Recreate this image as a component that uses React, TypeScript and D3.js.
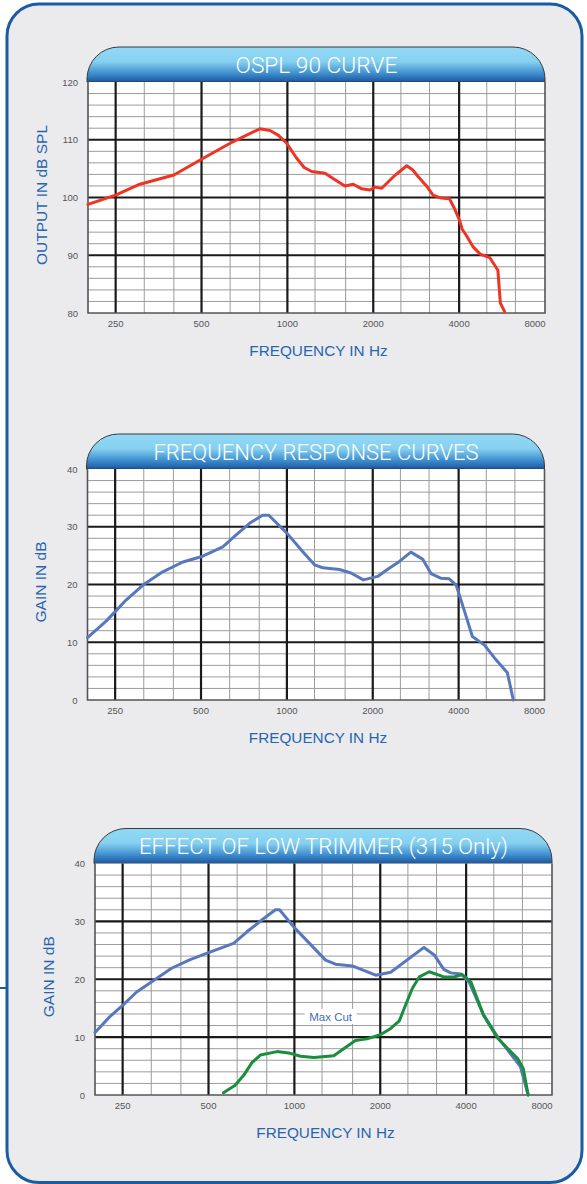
import React from "react";
import * as d3 from "d3";

// ---------- DATA ----------
const xMajorTicks = [250, 500, 1000, 2000, 4000, 8000];
const xMinorTicks = [315, 400, 630, 800, 1250, 1600, 2500, 3150, 5000, 6300];

const osplTitle = "OSPL 90 CURVE";
const osplYTicks = [80, 90, 100, 110, 120];
const osplFreq = [200, 250, 304, 400, 507, 630, 800, 869, 928, 994, 1078, 1145, 1217, 1355, 1446, 1590, 1702, 1822, 1946, 2030, 2142, 2354, 2620, 2748, 2876, 3074, 3240, 3460, 3700, 3850, 4010, 4100, 4230, 4470, 4740, 5120, 5470, 5580, 5780];
const osplValues = [98.8, 100.4, 102.3, 103.9, 106.8, 109.4, 111.9, 111.6, 110.8, 109.4, 106.8, 105.2, 104.5, 104.2, 103.3, 102.0, 102.3, 101.5, 101.3, 101.8, 101.6, 103.6, 105.5, 104.8, 103.6, 102.0, 100.4, 99.9, 99.8, 98.1, 96.1, 94.5, 93.5, 91.5, 90.2, 89.6, 87.4, 81.7, 80.2];

const gainTitle = "FREQUENCY RESPONSE CURVES";
const gainYTicks = [0, 10, 20, 30, 40];
const gainFreq = [200, 233, 250, 273, 313, 367, 432, 507, 596, 664, 740, 822, 864, 1000, 1135, 1250, 1336, 1528, 1678, 1854, 2080, 2250, 2480, 2720, 2990, 3200, 3460, 3700, 3920, 4180, 4470, 4930, 5400, 5930, 6220];
const gainValues = [10.8, 13.7, 15.3, 17.3, 19.9, 22.2, 23.9, 24.9, 26.5, 28.6, 30.6, 32.0, 32.0, 28.9, 25.7, 23.4, 22.9, 22.6, 22.0, 20.8, 21.4, 22.6, 24.0, 25.6, 24.4, 21.9, 21.1, 21.0, 19.9, 15.6, 11.0, 9.5, 7.0, 4.7, 0];

const trimTitle = "EFFECT OF LOW TRIMMER (315 Only)";
const trimYTicks = [0, 10, 20, 30, 40];
const trimFullFreq = [200, 225, 250, 280, 321, 371, 431, 500, 612, 682, 781, 858, 887, 996, 1286, 1393, 1596, 1928, 2176, 2846, 3092, 3340, 3532, 3838, 4100, 4600, 5160, 6200, 6600];
const trimFullValues = [10.8, 13.5, 15.5, 17.8, 19.8, 21.9, 23.4, 24.6, 26.2, 28.2, 30.5, 32.0, 32.0, 29.0, 23.3, 22.6, 22.3, 20.7, 21.2, 25.5, 24.2, 21.7, 21.1, 20.9, 19.5, 13.9, 10.0, 4.9, 0];
const trimCutFreq = [564, 620, 664, 710, 760, 870, 968, 1051, 1170, 1374, 1636, 1796, 2000, 2176, 2332, 2452, 2590, 2740, 2970, 3340, 3620, 3880, 4160, 4600, 5160, 6060, 6340, 6600];
const trimCutValues = [0.4, 1.7, 3.4, 5.6, 6.9, 7.5, 7.2, 6.7, 6.5, 6.8, 9.4, 9.7, 10.4, 11.5, 12.8, 15.5, 18.4, 20.4, 21.3, 20.4, 20.4, 20.8, 19.5, 13.8, 9.8, 6.3, 4.6, 0];
const maxCutLabel = "Max Cut";
const maxCutAt = [1340, 13.5];

const freqLabel = "FREQUENCY IN Hz";

// ---------- STYLE ----------
const BG = "#ebebee";
const FRAME = "#1b5ba6";
const AXIS_BLUE = "#2765ae";
const RED = "#ee3424";
const BLUE = "#5878bd";
const GREEN = "#1b8e3e";
const FONT = "'Liberation Sans', Arial, sans-serif";

type Series = { freq: number[]; values: number[]; color: string };

type ChartProps = {
  id: string;
  left: number;
  right: number;
  top: number;
  bottom: number;
  title: string;
  titleWidth: number;
  yTicks: number[];
  yLabel: string;
  series: Series[];
  children?: (x: d3.ScaleLogarithmic<number, number>, y: d3.ScaleLinear<number, number>) => React.ReactNode;
};

function Chart(p: ChartProps) {
  const x = d3.scaleLog().domain([200, 8000]).range([p.left, p.right]);
  const yMin = p.yTicks[0];
  const yMax = p.yTicks[p.yTicks.length - 1];
  const y = d3.scaleLinear().domain([yMin, yMax]).range([p.bottom, p.top]);
  const minorY = d3.range(yMin + 2, yMax, 2).filter((v) => (v - yMin) % 10 !== 0);
  const majorY = p.yTicks.filter((v) => v !== yMin && v !== yMax);
  const tabTop = p.top - 35;
  const r = 32;
  const tabPath = `M${p.left - 1},${p.top} L${p.left - 1},${tabTop + r} A${r},${r} 0 0 1 ${p.left - 1 + r},${tabTop} L${p.right - r},${tabTop} A${r},${r} 0 0 1 ${p.right},${tabTop + r} L${p.right},${p.top} Z`;
  const cx = (p.left + p.right) / 2;
  const cy = (p.top + p.bottom) / 2;
  const line = d3
    .line<[number, number]>()
    .x((d) => x(d[0]))
    .y((d) => y(d[1]))
    .curve(d3.curveLinear);

  return (
    <g>
      <defs>
        <linearGradient id={`tab-${p.id}`} x1="0" y1="0" x2="0" y2="1">
          <stop offset="0" stopColor="#92d9f5" />
          <stop offset="0.42" stopColor="#86d0f0" />
          <stop offset="0.75" stopColor="#3f8fcf" />
          <stop offset="1" stopColor="#1a56a0" />
        </linearGradient>
      </defs>
      <path d={tabPath} fill={`url(#tab-${p.id})`} stroke="#3a3a3a" strokeWidth={1} />
      <text
        x={cx}
        y={tabTop + 25.5}
        textAnchor="middle"
        fill="#ffffff"
        fontFamily="Roboto, 'Open Sans', 'Liberation Sans', sans-serif"
        fontWeight={300}
        fontSize={21.5}
        textLength={p.titleWidth}
        lengthAdjust="spacingAndGlyphs"
      >
        {p.title}
      </text>
      <rect x={p.left} y={p.top} width={p.right - p.left} height={p.bottom - p.top} fill="#ffffff" />
      {minorY.map((v) => (
        <line key={`my${v}`} x1={p.left} x2={p.right} y1={y(v)} y2={y(v)} stroke="#9c9c9c" strokeWidth={1} />
      ))}
      {xMinorTicks.map((f) => (
        <line key={`mx${f}`} x1={x(f)} x2={x(f)} y1={p.top} y2={p.bottom} stroke="#9c9c9c" strokeWidth={1} />
      ))}
      {majorY.map((v) => (
        <line key={`My${v}`} x1={p.left} x2={p.right} y1={y(v)} y2={y(v)} stroke="#1a1a1a" strokeWidth={2.2} />
      ))}
      {xMajorTicks
        .filter((f) => f < 8000)
        .map((f) => (
          <line key={`Mx${f}`} x1={x(f)} x2={x(f)} y1={p.top} y2={p.bottom} stroke="#1a1a1a" strokeWidth={2.2} />
        ))}
      <path
        d={`M${p.left},${p.top} L${p.left},${p.bottom} L${p.right},${p.bottom} L${p.right},${p.top}`}
        fill="none"
        stroke="#555"
        strokeWidth={1.6}
      />
      {p.series.map((s, i) => (
        <path
          key={i}
          d={line(s.freq.map((f, j) => [f, s.values[j]] as [number, number])) || ""}
          fill="none"
          stroke={s.color}
          strokeWidth={3}
          strokeLinejoin="round"
          strokeLinecap="round"
        />
      ))}
      {p.children && p.children(x, y)}
      {p.yTicks.map((v) => (
        <text key={`yl${v}`} x={p.left - 10} y={y(v) + 3.5} textAnchor="end" fontFamily={FONT} fontSize={9.5} fill="#555">
          {v}
        </text>
      ))}
      {xMajorTicks.map((f) => (
        <text
          key={`xl${f}`}
          x={f === 8000 ? x(f) - 10 : x(f)}
          y={p.bottom + 14}
          textAnchor="middle"
          fontFamily={FONT}
          fontSize={9.5}
          fill="#555"
        >
          {f}
        </text>
      ))}
      <text x={cx + 2} y={p.bottom + 42.5} textAnchor="middle" fontFamily={FONT} fontSize={15.3} fill={AXIS_BLUE}>
        {freqLabel}
      </text>
      <text
        transform={`translate(${p.left - 41.5},${cy - 2.5}) rotate(-90)`}
        textAnchor="middle"
        fontFamily={FONT}
        fontSize={15.5}
        fill={AXIS_BLUE}
      >
        {p.yLabel}
      </text>
    </g>
  );
}

export default function App() {
  const W = 587;
  const H = 1184;
  return (
    <svg width={W} height={H} viewBox={`0 0 ${W} ${H}`} style={{ position: "absolute", left: 0, top: 0, display: "block" }}>
      <rect x={0} y={0} width={W} height={H} fill="#ffffff" />
      <rect x={7} y={4} width={575} height={1178.5} rx={32} ry={32} fill={BG} stroke={FRAME} strokeWidth={3} />
      <line x1={0} x2={7} y1={988} y2={988} stroke={FRAME} strokeWidth={2} />
      <Chart
        id="ospl"
        left={88}
        right={545}
        top={82}
        bottom={313}
        title={osplTitle}
        titleWidth={162}
        yTicks={osplYTicks}
        yLabel="OUTPUT IN dB SPL"
        series={[{ freq: osplFreq, values: osplValues, color: RED }]}
      />
      <Chart
        id="gain"
        left={87.5}
        right={544.5}
        top={469}
        bottom={700}
        title={gainTitle}
        titleWidth={325}
        yTicks={gainYTicks}
        yLabel="GAIN IN dB"
        series={[{ freq: gainFreq, values: gainValues, color: BLUE }]}
      />
      <Chart
        id="trim"
        left={95}
        right={552}
        top={863.5}
        bottom={1095}
        title={trimTitle}
        titleWidth={369}
        yTicks={trimYTicks}
        yLabel="GAIN IN dB"
        series={[
          { freq: trimFullFreq, values: trimFullValues, color: BLUE },
          { freq: trimCutFreq, values: trimCutValues, color: GREEN },
        ]}
      >
        {(x, y) => (
          <g>
            <rect x={x(maxCutAt[0]) - 26} y={y(maxCutAt[1]) - 8} width={52} height={15} fill="#ffffff" />
            <text
              x={x(maxCutAt[0])}
              y={y(maxCutAt[1]) + 4}
              textAnchor="middle"
              fontFamily={FONT}
              fontSize={11.5}
              fill="#3f6fb6"
            >
              {maxCutLabel}
            </text>
          </g>
        )}
      </Chart>
    </svg>
  );
}
